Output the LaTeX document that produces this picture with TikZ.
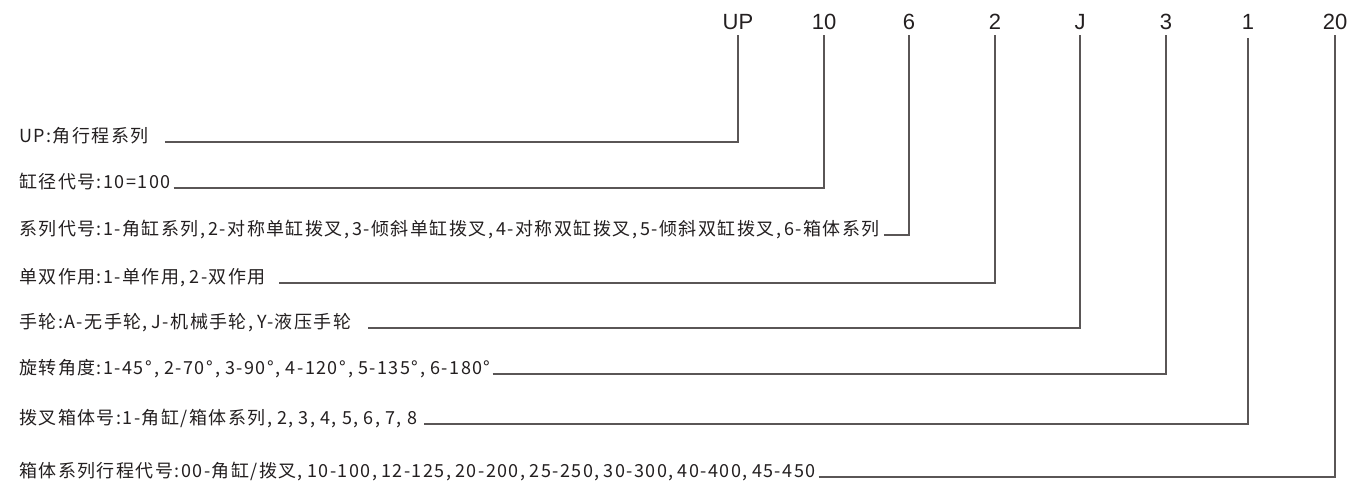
\documentclass[tikz,border=0pt]{standalone}
\usepackage{fontspec}
\usetikzlibrary{calc}
\newfontfamily\cjkfont[LetterSpace=8]{Noto Sans CJK SC}
\newfontfamily\codefont{Liberation Sans}
\newdimen\cmk \cmk=3pt
\newcommand\cma{,\kern\cmk}
\newcommand\dgr{°\kern2.2pt}
\definecolor{txt}{HTML}{231F20}
\definecolor{ln}{HTML}{5A5656}
\tikzset{
  code/.style={font=\codefont\fontsize{22}{24}\selectfont, text=txt, inner sep=0pt, anchor=base},
  desc/.style={font=\cjkfont\fontsize{18}{20}\selectfont, text=txt, inner sep=0pt, anchor=base west},
  conn/.style={draw=ln, line width=1.3pt}
}
\begin{document}
\begin{tikzpicture}[x=1pt, y=-1pt]
\useasboundingbox (0,0) rectangle (1351,487);
% top codes
\node[code] (t1) at (738,30) {UP};
\node[code] (t2) at (824,30) {10};
\node[code] (t3) at (909,30) {6};
\node[code] (t4) at (995,30) {2};
\node[code] (t5) at (1080,30) {J};
\node[code] (t6) at (1166,30) {3};
\node[code] (t7) at (1248,30) {1};
\node[code] (t8) at (1335,30) {20};
% descriptions
\node[desc] (d1) at (19,142) {UP:角行程系列};
\node[desc] (d2) at (19,188) {缸径代号:10=100};
\node[desc] (d3) at (19,235) {\cmk=3.2pt 系列代号:1-角缸系列\cma 2-对称单缸拨叉\cma 3-倾斜单缸拨叉\cma 4-对称双缸拨叉\cma 5-倾斜双缸拨叉\cma 6-箱体系列};
\node[desc] (d4) at (19,283) {\cmk=4pt 单双作用:1-单作用\cma 2-双作用};
\node[desc] (d5) at (19,328) {\cmk=4pt 手轮:A-无手轮\cma J-机械手轮\cma Y-液压手轮};
\node[desc] (d6) at (19,374) {\cmk=5pt 旋转角度:1-45\dgr\cma 2-70\dgr\cma 3-90\dgr\cma 4-120\dgr\cma 5-135\dgr\cma 6-180°};
\node[desc] (d7) at (19,424) {\cmk=5.2pt 拨叉箱体号:1-角缸/箱体系列\cma 2\cma 3\cma 4\cma 5\cma 6\cma 7\cma 8};
\node[desc] (d8) at (19,477) {\cmk=4.3pt 箱体系列行程代号:00-角缸/拨叉\cma 10-100\cma 12-125\cma 20-200\cma 25-250\cma 30-300\cma 40-400\cma 45-450};
% connectors
\draw[conn] ($(d1.base east)+(16,0)$) -| ([yshift=-5pt]t1.south);
\draw[conn] ($(d2.base east)+(3,0)$) -| ([yshift=-5pt]t2.south);
\draw[conn] ($(d3.base east)+(4,0)$) -| ([yshift=-5pt]t3.south);
\draw[conn] ($(d4.base east)+(13,0)$) -| ([yshift=-5pt]t4.south);
\draw[conn] ($(d5.base east)+(17,0)$) -| ([yshift=-5pt]t5.south);
\draw[conn] ($(d6.base east)+(2,0)$) -| ([yshift=-5pt]t6.south);
\draw[conn] ($(d7.base east)+(7,0)$) -| ([yshift=-8pt]t7.south);
\draw[conn] ($(d8.base east)+(3,0)$) -| ([yshift=-5pt]t8.south);
\end{tikzpicture}
\end{document}
